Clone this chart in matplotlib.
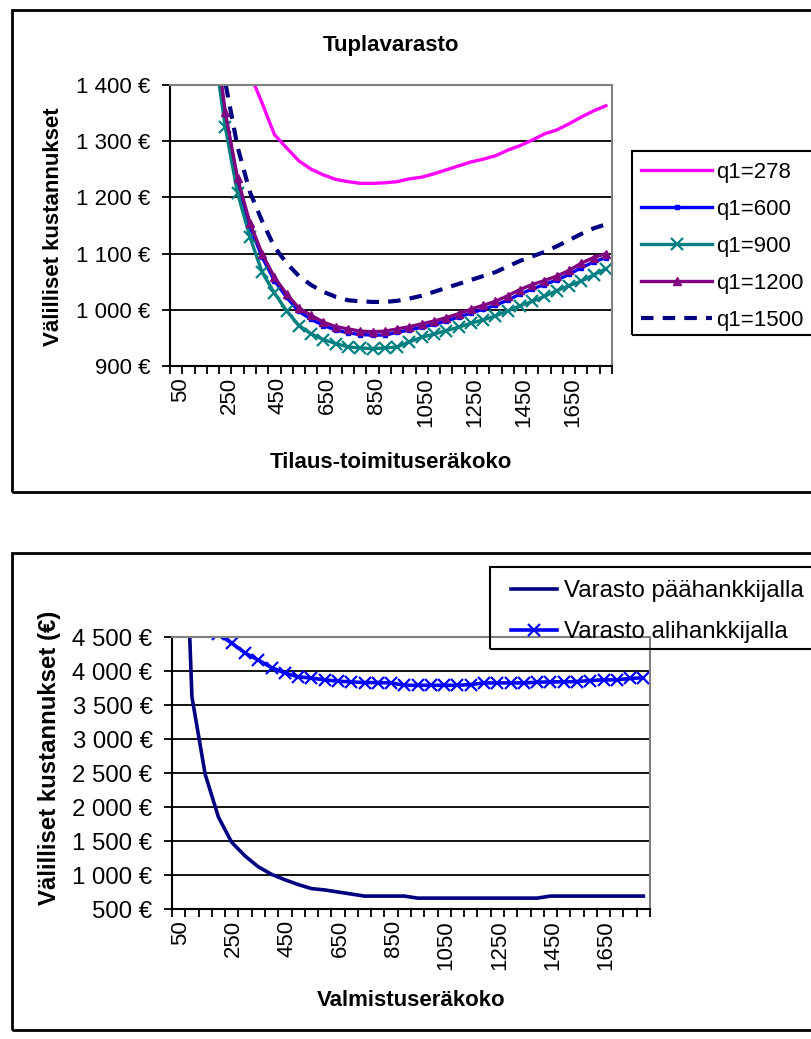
import matplotlib.pyplot as plt
from matplotlib.patches import Rectangle
from matplotlib.ticker import FuncFormatter
from matplotlib.transforms import ScaledTranslation

plt.rcParams['font.family'] = ['Liberation Sans', 'DejaVu Sans']

W, H = 811, 1039

batch_sizes = list(range(50, 1801, 50))

# Tuplavarasto, one curve per q1
q1_278 = [4900, 2700, 2100, 1800, 1620, 1500, 1420, 1368, 1312, 1288, 1265, 1250,
          1240, 1232, 1228, 1225, 1225, 1226, 1228, 1233, 1236, 1242, 1249, 1256,
          1263, 1268, 1274, 1284, 1292, 1302, 1313, 1320, 1331, 1343, 1354, 1363]
q1_600 = [3150, 2280, 1790, 1510, 1347, 1228, 1148, 1094, 1052, 1022, 997, 983,
          972, 964, 959, 956, 955, 955, 960, 964, 969, 974, 980, 987,
          994, 1001, 1008, 1017, 1028, 1037, 1045, 1053, 1063, 1075, 1085, 1093]
q1_900 = [3000, 2200, 1750, 1480, 1325, 1208, 1130, 1067, 1030, 998, 972, 957,
          947, 940, 934, 932, 931, 932, 934, 943, 951, 957, 963, 969,
          976, 982, 989, 998, 1007, 1015, 1024, 1034, 1043, 1051, 1062, 1073]
q1_1200 = [3200, 2300, 1800, 1520, 1352, 1234, 1155, 1100, 1058, 1028, 1003, 990,
           978, 970, 966, 962, 961, 962, 966, 970, 975, 980, 986, 993,
           1001, 1008, 1015, 1025, 1036, 1045, 1052, 1060, 1070, 1083, 1093, 1100]
q1_1500 = [3400, 2500, 1950, 1620, 1405, 1290, 1210, 1158, 1112, 1083, 1060, 1044,
           1032, 1023, 1017, 1015, 1014, 1014, 1016, 1020, 1025, 1032, 1039, 1046,
           1053, 1060, 1067, 1077, 1087, 1095, 1103, 1113, 1124, 1135, 1145, 1152]

# varaston sijainti
paahankkija = [9000, 3620, 2480, 1850, 1480, 1280, 1120, 1010, 930, 860, 800, 780,
               750, 720, 690, 690, 690, 690, 660, 660, 660, 660, 660, 660,
               660, 660, 660, 660, 690, 690, 690, 690, 690, 690, 690, 690]
alihankkija = [6000, 5300, 4800, 4540, 4410, 4265, 4160, 4050, 3970, 3915, 3895, 3870,
               3850, 3840, 3830, 3830, 3825, 3790, 3790, 3790, 3790, 3790, 3800, 3825,
               3825, 3825, 3825, 3835, 3840, 3840, 3845, 3860, 3870, 3870, 3890, 3900]

top_ticks = [900, 1000, 1100, 1200, 1300, 1400]
bottom_ticks = [500, 1000, 1500, 2000, 2500, 3000, 3500, 4000, 4500]


def euro(v, pos=None):
    return f"{int(v):,} €".replace(",", " ")


def px(x, y):
    # pixel position (from top-left) -> figure fraction
    return x / W, 1 - y / H


def style_axes(ax, yticks, ysize, xsize, xshift):
    n = len(batch_sizes)
    xs = list(range(n))
    ax.set_xlim(-0.5, n - 0.5)
    ax.set_ylim(yticks[0], yticks[-1])
    ax.set_yticks(yticks)
    ax.yaxis.set_major_formatter(FuncFormatter(euro))
    for y in yticks:
        ax.axhline(y, color='black', lw=1.3, zorder=0)
    # ticks between categories, labels on every fourth category
    ax.set_xticks([i - 0.5 for i in range(n + 1)])
    ax.set_xticklabels([])
    ax.set_xticks(xs[::4], minor=True)
    ax.set_xticklabels([str(b) for b in batch_sizes[::4]], minor=True, rotation=90)
    ax.tick_params(axis='x', which='major', direction='out', length=6, width=1.3)
    ax.tick_params(axis='x', which='minor', length=0, pad=8, labelsize=xsize)
    ax.tick_params(axis='y', direction='out', length=6, width=1.3,
                   labelsize=ysize, pad=8)
    shift = ScaledTranslation(xshift / 100, 0, fig.dpi_scale_trans)
    for lab in ax.get_xticklabels(minor=True):
        lab.set_transform(lab.get_transform() + shift)
    for s in ('left', 'bottom'):
        ax.spines[s].set_color('black')
        ax.spines[s].set_linewidth(1.5)
    for s in ('top', 'right'):
        ax.spines[s].set_color('#808080')
        ax.spines[s].set_linewidth(1.5)
    return xs


def box(x0, y0, x1, y1, lw):
    fig.patches.append(Rectangle(px(x0, y1), (x1 - x0) / W, (y1 - y0) / H,
                                 transform=fig.transFigure, fill=False,
                                 lw=lw, ec='black', zorder=5))


fig = plt.figure(figsize=(W / 100, H / 100), dpi=100)

# outer chart frames
box(12, 10, 852, 492, 2)
box(12, 553, 852, 1030, 2)

# --- Tuplavarasto ---
ax1 = fig.add_axes([170 / W, 1 - 366 / H, 442 / W, 281 / H])
xs = style_axes(ax1, top_ticks, 16, 16, 4)
ax1.plot(xs, q1_278, color='#FF00FF', lw=2.4, label='q1=278')
ax1.plot(xs, q1_600, color='#0000FF', lw=2.4, marker='s', ms=3.5, label='q1=600')
ax1.plot(xs, q1_900, color='#008080', lw=2.4, marker='x', ms=8, mew=1.6, label='q1=900')
ax1.plot(xs, q1_1200, color='#800080', lw=2.4, marker='^', ms=6, label='q1=1200')
ax1.plot(xs, q1_1500, color='#000080', lw=3, ls=(0, (3, 2.2)), label='q1=1500')

fig.text(*px(391, 45), 'Tuplavarasto', ha='center', va='center',
         fontsize=16, fontweight='bold')
fig.text(*px(54, 227), 'Välilliset kustannukset', rotation=90,
         ha='center', va='center', fontsize=16, fontweight='bold')
fig.text(*px(391, 463), 'Tilaus-toimituseräkoko', ha='center', va='center',
         fontsize=16, fontweight='bold')

box(632, 151, 852, 335, 1.5)
fig.legend(*ax1.get_legend_handles_labels(), loc='upper left',
           bbox_to_anchor=px(641, 162), fontsize=16, frameon=False,
           handlelength=3.2, handletextpad=0.2, labelspacing=0.72,
           borderpad=0, borderaxespad=0)

# --- Varaston sijainti ---
ax2 = fig.add_axes([172 / W, 1 - 909 / H, 478 / W, 272 / H])
xs = style_axes(ax2, bottom_ticks, 17.3, 16, 2)
ax2.plot(xs, paahankkija, color='#000080', lw=2.6, label='Varasto päähankkijalla')
ax2.plot(xs, alihankkija, color='#0000FF', lw=2.6, marker='x', ms=9, mew=1.6,
         label='Varasto alihankkijalla')

fig.text(*px(50, 758), 'Välilliset kustannukset (€)', rotation=90,
         ha='center', va='center', fontsize=17.3, fontweight='bold')
fig.text(*px(411, 1001), 'Valmistuseräkoko', ha='center', va='center',
         fontsize=16, fontweight='bold')

box(490, 567, 852, 649, 1.5)
fig.legend(*ax2.get_legend_handles_labels(), loc='upper left',
           bbox_to_anchor=px(511, 580), fontsize=17.3, frameon=False,
           handlelength=1.9, handletextpad=0.3, labelspacing=0.8,
           borderpad=0, borderaxespad=0)

fig.savefig('out.png', dpi=100)
